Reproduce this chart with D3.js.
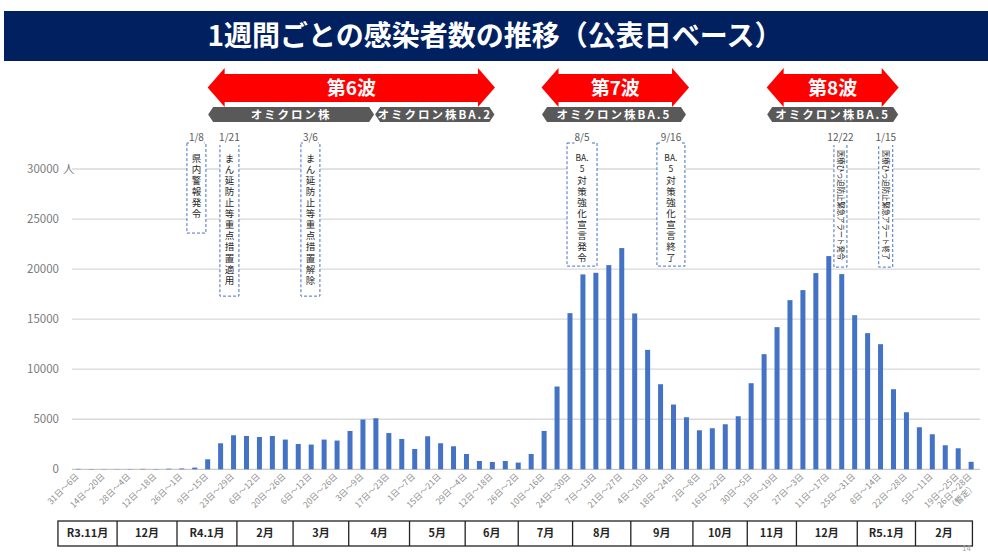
<!DOCTYPE html>
<html>
<head>
<meta charset="utf-8">
<script src="https://cdn.jsdelivr.net/npm/d3@7"></script>
<style>
  body { margin: 0; background: #fff; }
  svg text { font-family: "Noto Sans CJK JP", "Noto Sans", sans-serif; }
</style>
</head>
<body>
<div id="chart"></div>
<script>
// weekly new cases (publication-date basis), 2021/10/31 week -> 2023/2/26 week
const cases = [40, 30, 20, 20, 30, 40, 30, 60, 80, 170,
  1000, 2600, 3400, 3330, 3230, 3330, 2970, 2530, 2470, 2970,
  2870, 3830, 4970, 5100, 3620, 3030, 2030, 3300, 2600, 2300,
  1530, 830, 730, 830, 670, 1530, 3830, 8270, 15600, 19470,
  19630, 20400, 22100, 15570, 11930, 8500, 6470, 5200, 3900, 4100,
  4500, 5300, 8600, 11500, 14200, 16900, 17900, 19600, 21300, 19500,
  15400, 13600, 12500, 8000, 5700, 4200, 3500, 2400, 2100, 750];

// labels shown on every other week, last one is the provisional week
const weekTicks = ["31日～6日","14日～20日","28日～4日","12日～18日","26日～1日","9日～15日",
  "23日～29日","6日～12日","20日～26日","6日～12日","20日～26日","3日～9日","17日～23日",
  "1日～7日","15日～21日","29日～4日","12日～18日","26日～2日","10日～16日","24日～30日",
  "7日～13日","21日～27日","4日～10日","18日～24日","2日～8日","16日～22日","30日～5日",
  "13日～19日","27日～3日","11日～17日","25日～31日","8日～14日","22日～28日","5日～11日",
  "19日～25日","26日～28日"];

const yTicks = [0, 5000, 10000, 15000, 20000, 25000, 30000];

// month row under the axis, boundaries in week units
const months = ["R3.11月","12月","R4.1月","2月","3月","4月","5月","6月","7月","8月","9月","10月","11月","12月","R5.1月","2月"];
const monthEdges = [-1.57, 3, 7.63, 12.26, 16.6, 20.9, 25.6, 29.9, 34, 38.2, 42.7, 47.5, 51.7, 55.5, 60.2, 64.7, 69.1];

const waves = [
  { label: "第6波", from: 10.0, to: 32.2 },
  { label: "第7波", from: 35.8, to: 47.2 },
  { label: "第8波", from: 53.2, to: 63.4 }
];
const strains = [
  { label: "オミクロン株", from: 10.0, to: 22.9 },
  { label: "オミクロン株BA.2", from: 22.9, to: 32.2 },
  { label: "オミクロン株BA.5", from: 35.8, to: 47.0 },
  { label: "オミクロン株BA.5", from: 53.2, to: 63.4 }
];

const events = [
  { date: "1/8", week: 9.13, text: "県内警報発令" },
  { date: "1/21", week: 11.68, text: "まん延防止等重点措置適用" },
  { date: "3/6", week: 17.94, text: "まん延防止等重点措置解除" },
  { date: "8/5", week: 38.93, head: ["BA.", "5"], text: "対策強化宣言発令" },
  { date: "9/16", week: 45.8, head: ["BA.", "5"], text: "対策強化宣言終了" },
  { date: "12/22", week: 58.9, rotated: "医療ひっ迫防止緊急アラート発令" },
  { date: "1/15", week: 62.4, rotated: "医療ひっ迫防止緊急アラート終了" }
];
// box layout for the event notes (width px, bottom value)
const eventBox = [[19, 23600], [19, 17300], [19, 17300], [30, 20300], [28, 20300], [13, 20200], [14, 20200]];

const W = 988, H = 553;
const svg = d3.select("#chart").append("svg")
  .attr("width", W).attr("height", H);

// title banner
svg.append("rect").attr("x", 4).attr("y", 11).attr("width", W - 4).attr("height", 50)
  .attr("fill", "#002060");
svg.append("text").attr("x", 495).attr("y", 36).attr("dy", "0.36em")
  .attr("text-anchor", "middle").attr("fill", "#fff")
  .attr("font-size", 28).attr("font-weight", "bold")
  .text("1週間ごとの感染者数の推移（公表日ベース）");

// scales
const x = d3.scaleBand().domain(d3.range(cases.length)).range([71.8, 977.6]);
const xc = d3.scaleLinear().domain([0, cases.length - 1])
  .range([x(0) + x.bandwidth() / 2, x(cases.length - 1) + x.bandwidth() / 2]);
const y = d3.scaleLinear().domain([0, 30000]).range([469.3, 169]);

// gridlines + y labels
const yAxis = svg.append("g");
yAxis.selectAll("line").data(yTicks).join("line")
  .attr("x1", 72).attr("x2", 980)
  .attr("y1", d => y(d)).attr("y2", d => y(d))
  .attr("stroke", d => d === 0 ? "#c8c8c8" : "#d9d9d9").attr("stroke-width", 1.3);
yAxis.selectAll("text").data(yTicks).join("text")
  .attr("x", 59).attr("y", d => y(d)).attr("dy", "0.36em")
  .attr("text-anchor", "end").attr("fill", "#7a7a7a").attr("font-size", 11.5)
  .attr("font-family", "Roboto, 'Noto Sans', sans-serif")
  .text(d => d);
yAxis.append("text").attr("x", 63).attr("y", y(30000)).attr("dy", "0.36em")
  .attr("fill", "#7a7a7a").attr("font-size", 11.5).text("人");

// bars
const barW = 5;
svg.append("g").selectAll("rect").data(cases).join("rect")
  .attr("x", (d, i) => xc(i) - barW / 2)
  .attr("width", barW)
  .attr("y", d => y(d))
  .attr("height", d => y(0) - y(d))
  .attr("fill", "#4472c4");

// x labels (rotated)
const xl = svg.append("g");
weekTicks.forEach((t, k) => {
  const last = k === weekTicks.length - 1;
  const i = last ? cases.length - 1 : k * 2;
  const txt = xl.append("text")
    .attr("transform", `translate(${xc(i) + 1},${477}) rotate(-45)`)
    .attr("text-anchor", "end").attr("fill", "#8c8c8c").attr("font-size", 8.5);
  txt.append("tspan").attr("x", 0).attr("y", 0).text(t);
  if (last) txt.append("tspan").attr("x", -4).attr("y", 10).text("（暫定）");
});

// month table
const tb = svg.append("g");
const tTop = 521, tBot = 546;
tb.append("rect").attr("x", xc(monthEdges[0])).attr("y", tTop)
  .attr("width", xc(monthEdges[monthEdges.length - 1]) - xc(monthEdges[0]))
  .attr("height", tBot - tTop).attr("fill", "none").attr("stroke", "#222").attr("stroke-width", 1.3);
tb.selectAll("line").data(monthEdges.slice(1, -1)).join("line")
  .attr("x1", d => xc(d)).attr("x2", d => xc(d)).attr("y1", tTop).attr("y2", tBot)
  .attr("stroke", "#222").attr("stroke-width", 1.3);
tb.selectAll("text").data(months).join("text")
  .attr("x", (d, i) => (xc(monthEdges[i]) + xc(monthEdges[i + 1])) / 2)
  .attr("y", (tTop + tBot) / 2).attr("dy", "0.36em")
  .attr("text-anchor", "middle").attr("font-size", 11).attr("font-weight", "bold")
  .attr("fill", "#262626").text(d => d);

// wave arrows
const headL = 17, aTop = 68, aBot = 107, sTop = 74, sBot = 102, aMid = (aTop + aBot) / 2;
const wg = svg.append("g");
waves.forEach(w => {
  const x0 = xc(w.from), x1 = xc(w.to);
  const p = d3.path();
  p.moveTo(x0, aMid); p.lineTo(x0 + headL, aTop); p.lineTo(x0 + headL, sTop);
  p.lineTo(x1 - headL, sTop); p.lineTo(x1 - headL, aTop); p.lineTo(x1, aMid);
  p.lineTo(x1 - headL, aBot); p.lineTo(x1 - headL, sBot); p.lineTo(x0 + headL, sBot);
  p.lineTo(x0 + headL, aBot); p.closePath();
  wg.append("path").attr("d", p.toString()).attr("fill", "#ff0000");
  wg.append("text").attr("x", (x0 + x1) / 2).attr("y", 88).attr("dy", "0.36em")
    .attr("text-anchor", "middle").attr("fill", "#fff")
    .attr("font-size", 19).attr("font-weight", "bold").text(w.label);
});
strains.forEach(s => {
  const x0 = xc(s.from) + 0.5, x1 = xc(s.to) - 0.5, t = 107, b = 122, m = (t + b) / 2;
  wg.append("path")
    .attr("d", `M${x0},${m}L${x0 + 5},${t}L${x1 - 5},${t}L${x1},${m}L${x1 - 5},${b}L${x0 + 5},${b}Z`)
    .attr("fill", "#595959");
  wg.append("text").attr("x", (x0 + x1) / 2).attr("y", m).attr("dy", "0.36em")
    .attr("text-anchor", "middle").attr("fill", "#fff").attr("font-size", 11.5)
    .attr("font-weight", "bold").attr("letter-spacing", 2).text(s.label);
});

// event notes
const eg = svg.append("g");
const lineH = 11.1, fs = 9.5;
events.forEach((e, k) => {
  const [bw, bottom] = eventBox[k];
  const cx = xc(e.week), bx = cx - bw / 2, by = 143, bb = y(bottom);
  eg.append("rect").attr("x", bx).attr("y", by).attr("width", bw).attr("height", bb - by)
    .attr("fill", "#fff").attr("stroke", "#4472c4").attr("stroke-width", 1)
    .attr("stroke-dasharray", "3,2");
  const dl = eg.append("text").attr("x", cx).attr("y", 141)
    .attr("text-anchor", "middle").attr("fill", "#595959").attr("font-size", 10).text(e.date);
  const bbx = dl.node().getBBox();
  eg.insert("rect", () => dl.node()).attr("x", bbx.x).attr("y", bbx.y + 2)
    .attr("width", bbx.width).attr("height", bbx.height - 1).attr("fill", "#fff");
  if (e.rotated) {
    eg.append("text").attr("transform", `translate(${cx},${150}) rotate(90)`)
      .attr("dy", "0.36em").attr("font-size", 8).attr("fill", "#262626")
      .attr("textLength", bb - by - 14).attr("lengthAdjust", "spacingAndGlyphs")
      .text(e.rotated);
    return;
  }
  const head = e.head || [];
  head.forEach((h, j) => {
    eg.append("text").attr("x", cx).attr("y", 158 + j * lineH).attr("dy", "0.36em")
      .attr("text-anchor", "middle").attr("font-size", 8.5).attr("fill", "#262626").text(h);
  });
  // vertical run, one glyph per line
  const y0 = 158 + head.length * lineH - fs / 2;
  eg.append("text").attr("x", cx).attr("y", y0)
    .style("writing-mode", "vertical-rl")
    .attr("letter-spacing", lineH - fs)
    .attr("font-size", fs).attr("fill", "#262626").text(e.text);
});

// page number
svg.append("text").attr("x", 962).attr("y", 551).attr("fill", "#a6a6a6")
  .attr("font-size", 8).text("14");
</script>
</body>
</html>
